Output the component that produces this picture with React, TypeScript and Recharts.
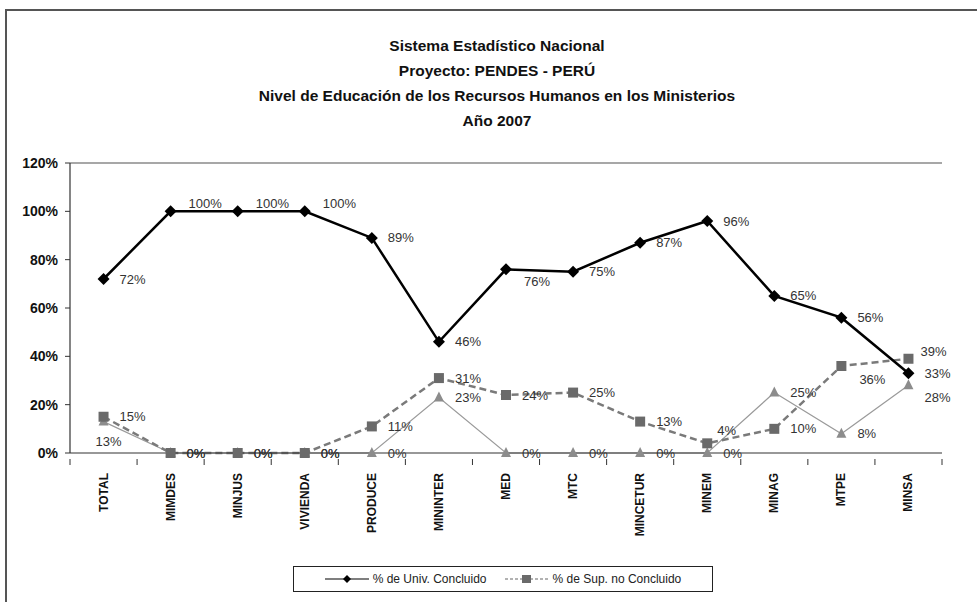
import { LineChart, Line, XAxis, YAxis, ReferenceLine } from 'recharts'

const categories = ['TOTAL', 'MIMDES', 'MINJUS', 'VIVIENDA', 'PRODUCE', 'MININTER', 'MED', 'MTC', 'MINCETUR', 'MINEM', 'MINAG', 'MTPE', 'MINSA']
const univConcluido = [72, 100, 100, 100, 89, 46, 76, 75, 87, 96, 65, 56, 33]
const supNoConcluido = [15, 0, 0, 0, 11, 31, 24, 25, 13, 4, 10, 36, 39]
const tecnico = [13, 0, 0, 0, 0, 23, 0, 0, 0, 0, 25, 8, 28]
const yTicks = [0, 20, 40, 60, 80, 100, 120]
const titleLines = [
  'Sistema Estadístico Nacional',
  'Proyecto: PENDES - PERÚ',
  'Nivel de Educación de los Recursos Humanos en los Ministerios',
  'Año 2007',
]
const legendNames = ['% de Univ. Concluido', '% de Sup. no Concluido']

const data = categories.map((name, i) => ({
  name,
  univ: univConcluido[i],
  sup: supNoConcluido[i],
  tec: tecnico[i],
}))

const W = 977
const H = 602
const PLOT_LEFT = 70
const PLOT_RIGHT = 942
const BAND = (PLOT_RIGHT - PLOT_LEFT) / categories.length
const FONT = '"Liberation Sans", Arial, sans-serif'
const NARROW = '"Liberation Sans Narrow", "Arial Narrow", "Liberation Sans", Arial, sans-serif'

// label nudges, the way Excel placed a few of them to dodge overlaps
const nudge: Record<string, Record<number, [number, number]>> = {
  univ: { 1: [18, -8], 2: [18, -8], 3: [18, -8], 6: [18, 12] },
  sup: { 9: [10, -13], 11: [18, 13], 12: [12, -7] },
  tec: { 0: [-8, 20], 12: [16, 12] },
}

function Diamond({ cx, cy }: any) {
  if (cx == null || cy == null) return null
  const r = 6
  return <polygon points={`${cx},${cy - r} ${cx + r},${cy} ${cx},${cy + r} ${cx - r},${cy}`} fill="#000" />
}

function Square({ cx, cy }: any) {
  if (cx == null || cy == null) return null
  return <rect x={cx - 5} y={cy - 5} width={10} height={10} fill="#6a6a6a" />
}

function Triangle({ cx, cy }: any) {
  if (cx == null || cy == null) return null
  return <polygon points={`${cx},${cy - 6} ${cx + 5},${cy + 4} ${cx - 5},${cy + 4}`} fill="#8c8c8c" />
}

const pctLabel = (key: string) => (p: any) => {
  const [dx, dy] = nudge[key][p.index] ?? [16, 0]
  return (
    <text
      key={`${key}-${p.index}`}
      x={p.x + dx}
      y={p.y + dy}
      dominantBaseline="central"
      fontFamily={FONT}
      fontSize={13}
      fill="#333"
    >
      {p.value}%
    </text>
  )
}

function XTick({ x, y, payload, index }: any) {
  const last = index === categories.length - 1
  return (
    <g>
      <line x1={x - BAND / 2} x2={x - BAND / 2} y1={y - 2} y2={y + 4} stroke="#333" />
      {last && <line x1={x + BAND / 2} x2={x + BAND / 2} y1={y - 2} y2={y + 4} stroke="#333" />}
      <text
        x={0}
        y={0}
        transform={`translate(${x + 4},${y + 12}) rotate(-90)`}
        textAnchor="end"
        fontFamily={FONT}
        fontWeight="bold"
        fontSize={12}
        fill="#111"
      >
        {payload.value}
      </text>
    </g>
  )
}

function ChartLegend() {
  return (
    <div
      style={{
        position: 'absolute',
        left: 293,
        top: 566,
        border: '1px solid #222',
        width: 418,
        height: 24,
        display: 'flex',
        alignItems: 'center',
        justifyContent: 'center',
        gap: 18,
        fontFamily: NARROW,
        fontSize: 12,
        color: '#222',
        background: '#fff',
      }}
    >
      <span style={{ display: 'flex', alignItems: 'center', gap: 4 }}>
        <svg width={44} height={10}>
          <line x1={0} x2={44} y1={5} y2={5} stroke="#000" strokeWidth={1.2} />
          <polygon points="22,1 26,5 22,9 18,5" fill="#000" />
        </svg>
        {legendNames[0]}
      </span>
      <span style={{ display: 'flex', alignItems: 'center', gap: 4 }}>
        <svg width={44} height={10}>
          <line x1={0} x2={44} y1={5} y2={5} stroke="#666" strokeWidth={1.2} strokeDasharray="3 2" />
          <rect x={17} y={1} width={9} height={8} fill="#6a6a6a" />
        </svg>
        {legendNames[1]}
      </span>
    </div>
  )
}

export default function App() {
  return (
    <div style={{ position: 'absolute', left: 0, top: 0, width: W, height: H, overflow: 'hidden', background: '#fff' }}>
      <div
        style={{
          position: 'absolute',
          left: 5,
          top: 9,
          width: 1000,
          height: 700,
          borderTop: '2px solid #555',
          borderLeft: '2px solid #555',
        }}
      />
      <div
        style={{
          position: 'absolute',
          left: 0,
          top: 33,
          width: 994,
          textAlign: 'center',
          fontFamily: FONT,
          fontWeight: 'bold',
          fontSize: 15.5,
          lineHeight: '25px',
          color: '#111',
        }}
      >
        {titleLines.map(t => (
          <div key={t}>{t}</div>
        ))}
      </div>
      <div style={{ position: 'absolute', left: 0, top: 0 }}>
        <LineChart
          width={W}
          height={H}
          data={data}
          margin={{ top: 163, right: W - PLOT_RIGHT, left: 10, bottom: 39 }}
        >
          <XAxis
            dataKey="name"
            scale="band"
            height={110}
            axisLine={{ stroke: '#333', strokeWidth: 1.2 }}
            tickLine={false}
            interval={0}
            tick={<XTick />}
          />
          <YAxis
            width={60}
            domain={[0, 120]}
            ticks={yTicks}
            tickFormatter={(v: number) => `${v}%`}
            axisLine={{ stroke: '#333', strokeWidth: 1.2 }}
            tickLine={{ stroke: '#333' }}
            tickSize={5}
            tick={{ fontFamily: FONT, fontWeight: 'bold', fontSize: 14, fill: '#111', dx: -5 }}
          />
          <YAxis
            yAxisId="frame"
            orientation="right"
            width={0}
            tick={false}
            tickLine={false}
            axisLine={{ stroke: '#8a8a8a', strokeWidth: 1.5 }}
          />
          <ReferenceLine y={120} stroke="#8a8a8a" strokeWidth={1.5} />
          <Line
            dataKey="tec"
            stroke="#9a9a9a"
            strokeWidth={1.2}
            dot={<Triangle />}
            activeDot={false}
            label={pctLabel('tec')}
            isAnimationActive={false}
          />
          <Line
            dataKey="sup"
            stroke="#7a7a7a"
            strokeWidth={2.5}
            strokeDasharray="7 4"
            dot={<Square />}
            activeDot={false}
            label={pctLabel('sup')}
            isAnimationActive={false}
          />
          <Line
            dataKey="univ"
            stroke="#000"
            strokeWidth={2.5}
            dot={<Diamond />}
            activeDot={false}
            label={pctLabel('univ')}
            isAnimationActive={false}
          />
        </LineChart>
      </div>
      <ChartLegend />
    </div>
  )
}
